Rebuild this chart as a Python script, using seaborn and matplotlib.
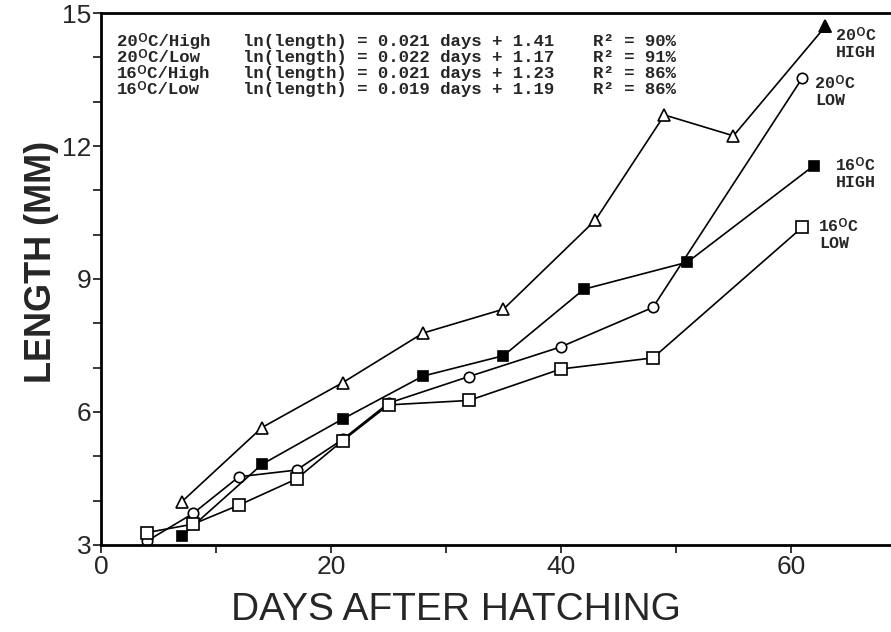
import matplotlib
matplotlib.use("Agg")
import matplotlib.pyplot as plt
import seaborn as sns
import pandas as pd
from matplotlib.ticker import MultipleLocator

# ---- data ----
days_20_high = [7, 14, 21, 28, 35, 43, 49, 55, 63]
len_20_high = [3.97, 5.65, 6.66, 7.78, 8.32, 10.33, 12.70, 12.23, 14.70]

days_20_low = [4, 8, 12, 17, 21, 25, 32, 40, 48, 61]
len_20_low = [3.09, 3.71, 4.54, 4.69, 5.38, 6.20, 6.80, 7.47, 8.36, 13.54]

days_16_high = [7, 14, 21, 28, 35, 42, 51, 62]
len_16_high = [3.20, 4.82, 5.84, 6.81, 7.27, 8.77, 9.38, 11.56]

days_16_low = [4, 8, 12, 17, 21, 25, 32, 40, 48, 61]
len_16_low = [3.28, 3.47, 3.90, 4.49, 5.35, 6.16, 6.26, 6.97, 7.22, 10.17]

eq_groups = ["20ᴼC/High", "20ᴼC/Low", "16ᴼC/High", "16ᴼC/Low"]
eq_texts = ["ln(length) = 0.021 days + 1.41", "ln(length) = 0.022 days + 1.17",
            "ln(length) = 0.021 days + 1.23", "ln(length) = 0.019 days + 1.19"]
r2_vals = ["90%", "91%", "86%", "86%"]

end_labels = ["20ᴼC\nHIGH", "20ᴼC\nLOW", "16ᴼC\nHIGH", "16ᴼC\nLOW"]

x_ticks = [0, 20, 40, 60]
y_ticks = [3, 6, 9, 12, 15]

# ---- figure ----
sns.set_style("ticks")
plt.rcParams["font.family"] = ["Liberation Sans", "DejaVu Sans"]

fig = plt.figure(figsize=(8.91, 6.32), dpi=100)
ax = fig.add_axes([0.1134, 0.1377, 0.8866, 0.8417])

lw = 1.2
common = dict(ax=ax, color="black", linewidth=lw, sort=False, estimator=None,
              markeredgecolor="black", markeredgewidth=1.2, legend=False)

sns.lineplot(x=days_20_high, y=len_20_high, marker="^", markersize=8,
             markerfacecolor="white", **common)
sns.lineplot(x=days_20_low, y=len_20_low, marker="o", markersize=7.5,
             markerfacecolor="white", **common)
sns.lineplot(x=days_16_high, y=len_16_high, marker="s", markersize=6.5,
             markerfacecolor="black", **common)
sns.lineplot(x=days_16_low, y=len_16_low, marker="s", markersize=8.5,
             markerfacecolor="white", **common)
# last 20C/High point drawn filled
sns.scatterplot(x=days_20_high[-1:], y=len_20_high[-1:], marker="^", s=70,
                color="black", edgecolor="black", ax=ax, legend=False, zorder=5)

ax.set_xlim(0, 68.7)
ax.set_ylim(3, 15)
ax.set_xticks(x_ticks)
ax.set_yticks(y_ticks)
ax.xaxis.set_minor_locator(MultipleLocator(10))
ax.yaxis.set_minor_locator(MultipleLocator(1))
ax.tick_params(axis="both", which="major", direction="out", length=6, width=1.3,
               labelsize=19, pad=1)
ax.tick_params(axis="both", which="minor", direction="out", length=6, width=1.3)

for side in ["left", "bottom", "top"]:
    ax.spines[side].set_linewidth(2)
    ax.spines[side].set_color("black")
ax.spines["right"].set_visible(False)

ax.set_xlabel("DAYS AFTER HATCHING", fontsize=28)
ax.xaxis.set_label_coords(0.449, -0.088)
ax.set_ylabel("LENGTH (MM)", fontsize=26, fontweight="bold")
ax.yaxis.set_label_coords(-0.053, 0.532)

mono_fam = ["Liberation Mono", "DejaVu Sans Mono", "DejaVu Sans"]
mono = dict(fontfamily=mono_fam, fontweight="bold",
            fontsize=12.5, va="baseline", ha="left")
baselines = [46, 62, 78, 94]
for i, by in enumerate(baselines):
    yy = 1 - by / 632
    fig.text(117 / 891, yy, eq_groups[i], **mono)
    fig.text(243 / 891, yy, eq_texts[i], **mono)
    fig.text(593 / 891, yy, "R² = " + r2_vals[i], **mono)

end_pos = [(836, 44), (815, 92), (836, 174), (819, 235)]
for (px, py), txt in zip(end_pos, end_labels):
    fig.text(px / 891, 1 - py / 632, txt, fontfamily=mono_fam,
             fontweight="bold", fontsize=12, va="center", ha="left", linespacing=1.1)

fig.savefig("out.png", dpi=100)
